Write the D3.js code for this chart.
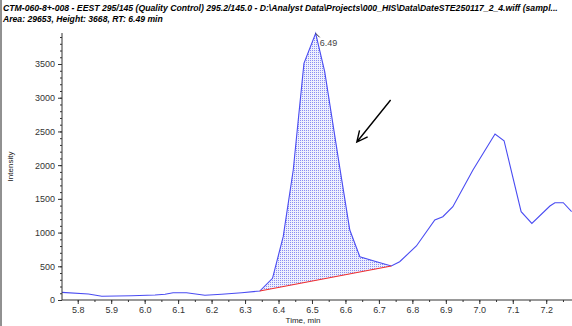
<!DOCTYPE html>
<html>
<head>
<meta charset="utf-8">
<script src="https://cdn.jsdelivr.net/npm/d3@7/dist/d3.min.js"></script>
<style>
  body { margin: 0; background: #fff; }
  svg { display: block; font-family: 'Liberation Sans', Arial, sans-serif; }
</style>
</head>
<body>
<div id="chart"></div>
<script>
// XIC trace
const times = [5.752, 5.832, 5.872, 5.961, 6.031, 6.061, 6.085, 6.125, 6.180, 6.230, 6.290, 6.344,
  6.382, 6.414, 6.444, 6.476, 6.511, 6.538, 6.581, 6.613, 6.643, 6.693, 6.737,
  6.762, 6.812, 6.867, 6.891, 6.921, 6.981, 7.047, 7.074, 7.125, 7.157, 7.211, 7.226, 7.251, 7.276];
const intensity = [114, 89, 55, 64, 74, 85, 108, 108, 70, 85, 108, 133,
  322, 939, 1928, 3510, 3955, 3386, 2027, 1038, 642, 568, 504,
  568, 801, 1186, 1235, 1384, 1928, 2462, 2362, 1310, 1137, 1394, 1443, 1443, 1310];

// integrated peak
const peakStart = 6.344;
const peakEnd = 6.737;
const peakApex = { t: 6.511, v: 3955, label: '6.49' };
const arrowFrom = { t: 6.735, v: 2966 };
const arrowTo = { t: 6.634, v: 2343 };

const xTicks = [5.8, 5.9, 6.0, 6.1, 6.2, 6.3, 6.4, 6.5, 6.6, 6.7, 6.8, 6.9, 7.0, 7.1, 7.2];
const yTicks = [0, 500, 1000, 1500, 2000, 2500, 3000, 3500];

const title1 = 'CTM-060-8+-008 - EEST 295/145 (Quality Control) 295.2/145.0 - D:\\Analyst Data\\Projects\\000_HIS\\Data\\DateSTE250117_2_4.wiff (sampl...';
const title2 = 'Area: 29653, Height: 3668, RT: 6.49 min';

const W = 572, H = 326;
const m = { top: 33, right: 0, bottom: 26, left: 62 };

const svg = d3.select('#chart').append('svg').attr('width', W).attr('height', H);

// FRAME LINE ON THE LEFT
svg.append('line').attr('x1', 1).attr('x2', 1).attr('y1', 0).attr('y2', H)
  .attr('stroke', '#222').attr('stroke-width', 1);

// TITLE (squeezed horizontally like the condensed original)
function title(txt, ty, width) {
  const g = svg.append('g');
  const t = g.append('text').attr('x', 0).attr('y', 0)
    .attr('font-size', 9.5).attr('font-weight', 'bold').attr('font-style', 'italic')
    .attr('fill', '#000').text(txt);
  const k = width / t.node().getComputedTextLength();
  g.attr('transform', `translate(3,${ty}) scale(${k},1)`);
}
title(title1, 11, 556);
title(title2, 22, 160);

// SCALES
const x = d3.scaleLinear().domain([5.753, 7.277]).range([m.left, W - m.right]);
const y = d3.scaleLinear().domain([0, 3960]).range([H - m.bottom, m.top]);

const defs = svg.append('defs');
const pat = defs.append('pattern').attr('id', 'dots')
  .attr('patternUnits', 'userSpaceOnUse').attr('width', 2).attr('height', 2);
pat.append('rect').attr('width', 2).attr('height', 2).attr('fill', '#eef0fd');
pat.append('rect').attr('width', 1).attr('height', 1).attr('fill', '#8a8ef3');

defs.append('clipPath').attr('id', 'plot').append('rect')
  .attr('x', m.left).attr('y', 0).attr('width', W - m.left).attr('height', H - m.bottom);

const pts = times.map((t, i) => ({ t, v: intensity[i] }));
const v0 = intensity[times.indexOf(peakStart)];
const v1 = intensity[times.indexOf(peakEnd)];
const base = t => v0 + (v1 - v0) * (t - peakStart) / (peakEnd - peakStart);

// SHADED AREA
const inPeak = pts.filter(d => d.t >= peakStart && d.t <= peakEnd);
const area = d3.area().x(d => x(d.t)).y0(d => y(base(d.t))).y1(d => y(d.v));
svg.append('path').datum(inPeak).attr('d', area).attr('fill', 'url(#dots)')
  .attr('clip-path', 'url(#plot)');

// TRACE
const line = d3.line().x(d => x(d.t)).y(d => y(d.v));
svg.append('path').datum(pts).attr('d', line)
  .attr('fill', 'none').attr('stroke', '#4a4cf2').attr('stroke-width', 1.1)
  .attr('clip-path', 'url(#plot)');

// BASELINE
svg.append('line')
  .attr('x1', x(peakStart)).attr('y1', y(v0)).attr('x2', x(peakEnd)).attr('y2', y(v1))
  .attr('stroke', '#f03030').attr('stroke-width', 1.1);

// AXES
const yAxis = svg.append('g').attr('transform', `translate(${m.left},0)`);
yAxis.call(d3.axisLeft(y).tickValues(d3.range(0, 4000, 100)).tickSize(2).tickFormat(''));
yAxis.call(g => g.select('.domain').remove());
const yMaj = svg.append('g').attr('transform', `translate(${m.left},0)`)
  .call(d3.axisLeft(y).tickValues(yTicks).tickSize(4).tickPadding(3).tickFormat(d3.format('d')));
yMaj.select('.domain').attr('d', `M0,${y(0)}V${m.top}`);

const xAxis = svg.append('g').attr('transform', `translate(0,${H - m.bottom})`);
xAxis.call(d3.axisBottom(x).tickValues(d3.range(5.8, 7.28, 0.05)).tickSize(2).tickFormat(''));
xAxis.call(g => g.select('.domain').remove());
const xMaj = svg.append('g').attr('transform', `translate(0,${H - m.bottom})`)
  .call(d3.axisBottom(x).tickValues(xTicks).tickSize(4).tickPadding(3).tickFormat(d3.format('.1f')));
xMaj.select('.domain').attr('d', `M${m.left},0H${W}`);

svg.selectAll('.tick line').attr('stroke', '#333');
svg.selectAll('.domain').attr('stroke', '#333');
svg.selectAll('.tick text').attr('font-size', 9).attr('fill', '#333')
  .attr('font-family', "'Liberation Sans', Arial, sans-serif");

// AXIS TITLES
svg.append('text').attr('x', (m.left + W) / 2 - 14).attr('y', 323)
  .attr('text-anchor', 'middle').attr('font-size', 8).attr('fill', '#222').text('Time, min');
svg.append('text').attr('transform', `translate(13,${(m.top + H - m.bottom) / 2}) rotate(-90)`)
  .attr('text-anchor', 'middle').attr('font-size', 8).attr('fill', '#222').text('Intensity');

// APEX LABEL
svg.append('line').attr('x1', x(peakApex.t)).attr('y1', y(peakApex.v))
  .attr('x2', x(peakApex.t) + 4).attr('y2', y(peakApex.v) + 4).attr('stroke', '#333');
svg.append('text').attr('x', x(peakApex.t) + 4).attr('y', y(peakApex.v) + 13)
  .attr('font-size', 9).attr('fill', '#444').text(peakApex.label);

// ARROW
const ax0 = x(arrowFrom.t), ay0 = y(arrowFrom.v), ax1 = x(arrowTo.t), ay1 = y(arrowTo.v);
const ang = Math.atan2(ay1 - ay0, ax1 - ax0);
const hl = 12, spread = 0.45;
const wing = s => [ax1 - hl * Math.cos(ang + s), ay1 - hl * Math.sin(ang + s)];
svg.append('path')
  .attr('d', `M${ax0},${ay0}L${ax1},${ay1}M${wing(spread)}L${ax1},${ay1}L${wing(-spread)}`)
  .attr('fill', 'none').attr('stroke', '#000').attr('stroke-width', 1.4);
</script>
</body>
</html>
